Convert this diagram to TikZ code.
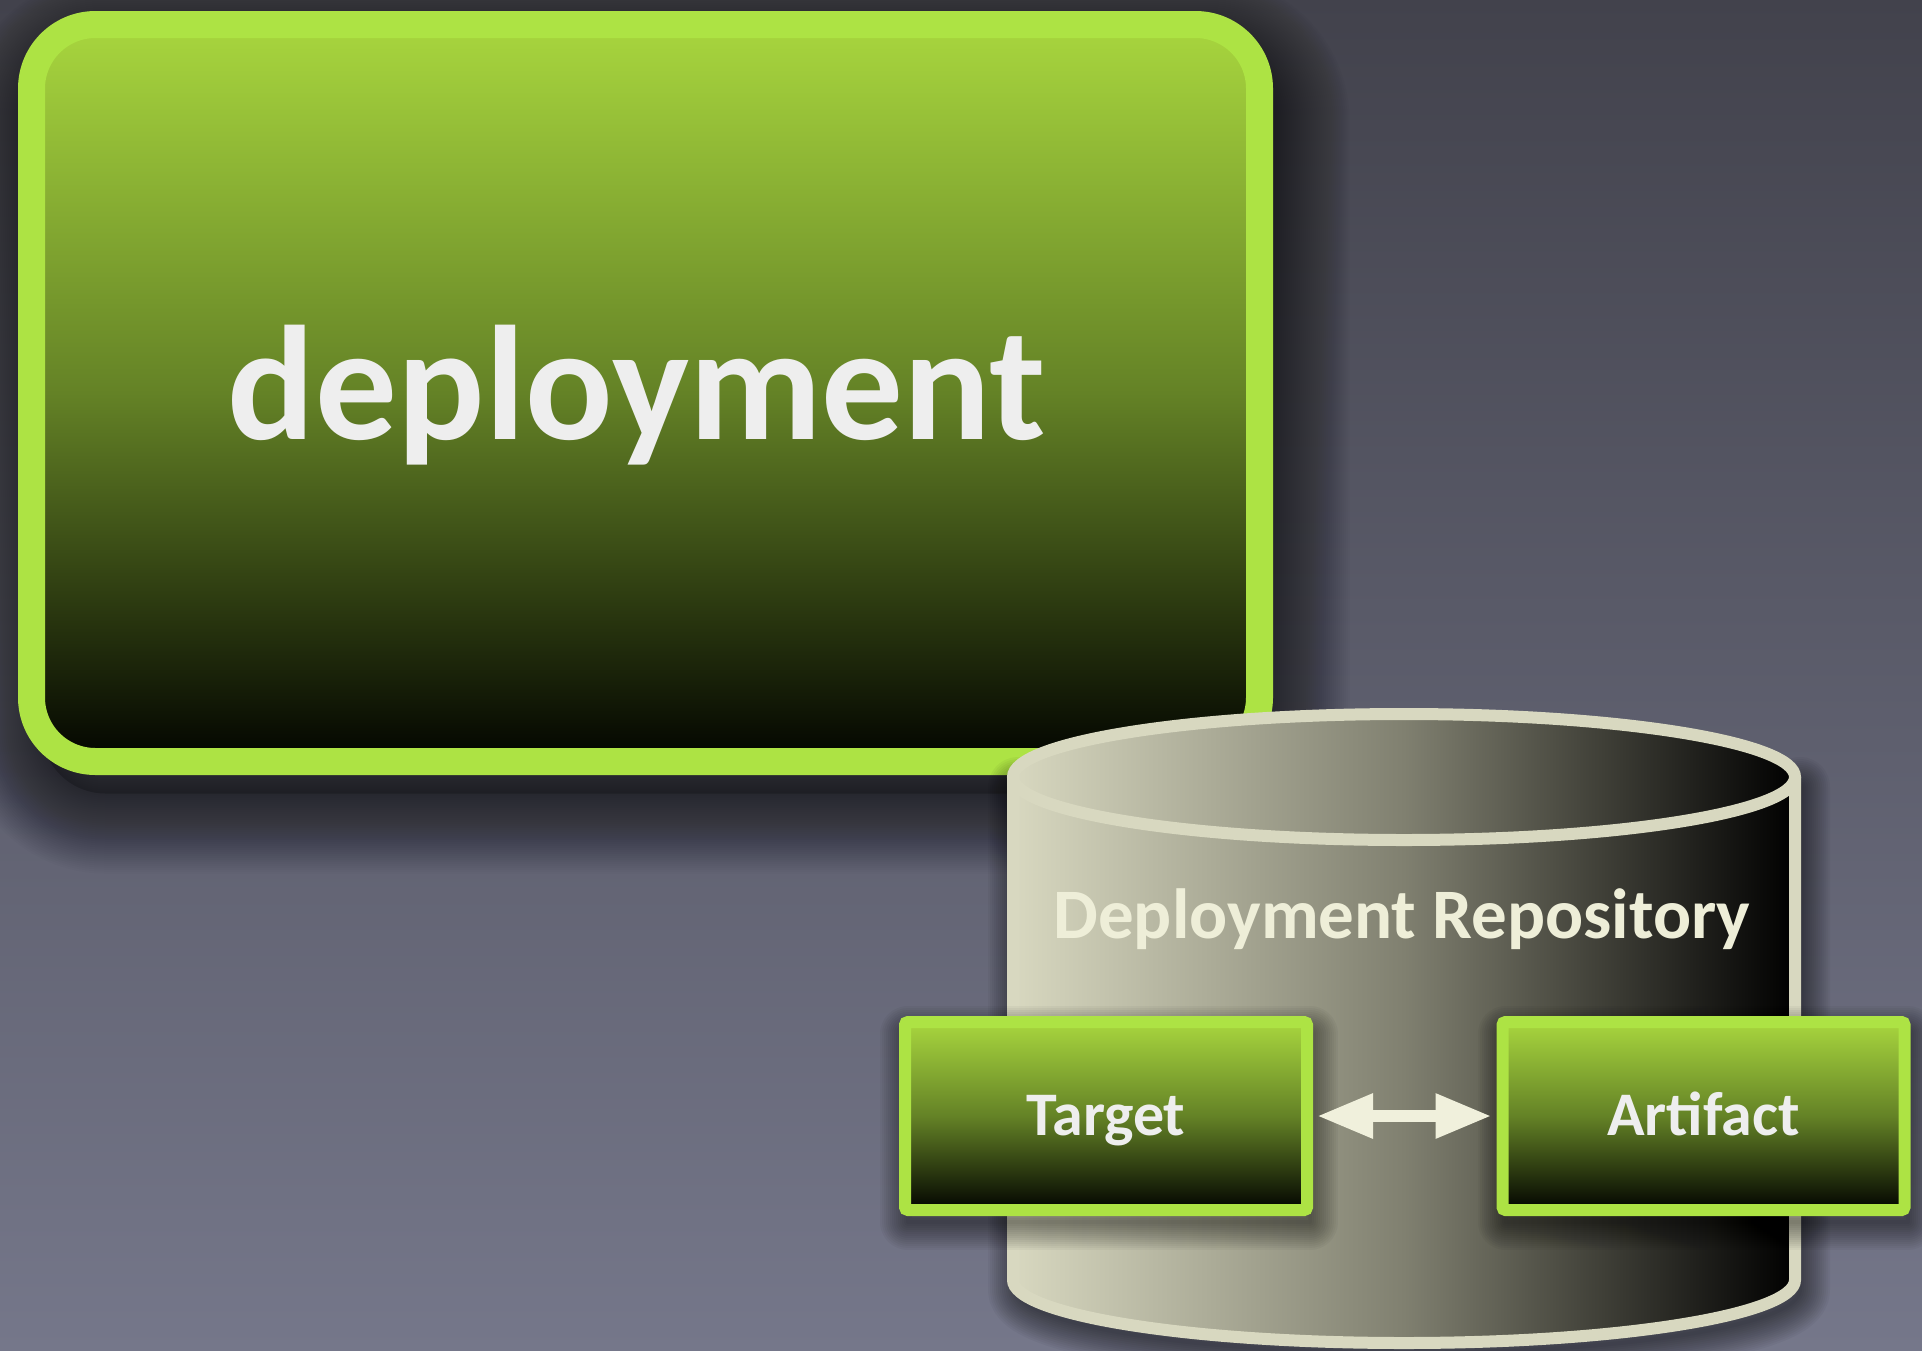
\documentclass[tikz,border=0pt]{standalone}
\usepackage{fontspec}
\setmainfont{Carlito}
\usetikzlibrary{arrows.meta}
\definecolor{bgtop}{RGB}{66,66,76}
\definecolor{bgbot}{RGB}{117,119,138}
\definecolor{lime}{RGB}{173,227,68}
\definecolor{gtop}{RGB}{168,214,62}
\definecolor{gmid}{RGB}{100,130,38}
\definecolor{gbot}{RGB}{2,4,0}
\definecolor{cream}{RGB}{216,216,192}
\definecolor{cmid}{RGB}{128,128,112}
\definecolor{txt}{RGB}{238,238,238}
\definecolor{txtc}{RGB}{238,238,216}
\definecolor{arrowc}{RGB}{240,240,220}
\tikzset{
  bigbox/.style={draw=lime, line width=27pt, rounded corners=64pt,
    minimum width=1228pt, minimum height=737pt, inner sep=0pt,
    top color=gtop, bottom color=gbot, middle color=gmid},
  smallbox/.style={draw=lime, line width=12pt, rounded corners=3pt,
    minimum width=402pt, minimum height=188pt, inner sep=0pt,
    top color=gtop, bottom color=gbot, middle color=gmid,
    text=txt, font=\fontsize{62}{62}\selectfont\bfseries,
    text height=39pt, text depth=0pt},
  glow/.style={black, opacity=0.035, line join=round},
  dblarrow/.style={arrowc, line width=12pt,
    {Triangle[length=56pt,width=42pt]}-{Triangle[length=56pt,width=42pt]}},
}
\begin{document}
\begin{tikzpicture}[x=1pt,y=-1pt]
\useasboundingbox (0,0) rectangle (1922,1350);
\shade[top color=bgtop,bottom color=bgbot] (0,0) rectangle (1922,1350);

% shadow of the big box
\begin{scope}[shift={(10,32)}]
  \fill[black,opacity=0.18,rounded corners=64pt] (31.5,24.5) rectangle (1259.5,761.5);
  \foreach \w in {4,8,...,160}
    \draw[black,opacity=0.015,line width=\w pt,rounded corners=64pt] (31.5,24.5) rectangle (1259.5,761.5);
\end{scope}

% big box
\node[bigbox] (deploy) at (645.5,393) {};
\node[font=\fontsize{163}{163}\selectfont\bfseries, text=txt, anchor=base, inner sep=0pt] (dtext) at (637,439) {deployment};

% shadow of the cylinder
\begin{scope}[shift={(5,10)}]
  \foreach \w in {4,8,...,60}
    \draw[glow,line width=\w pt] (1013,777) -- (1013,1280)
      arc[start angle=180,end angle=0,x radius=391,y radius=63] -- (1795,777)
      arc[start angle=0,end angle=180,x radius=391,y radius=63] -- cycle;
\end{scope}

% cylinder body
\shade[left color=cream, right color=black, middle color=cmid]
  (1013,777) -- (1013,1280) arc[start angle=180,end angle=0,x radius=391,y radius=63]
  -- (1795,777) -- cycle;
\draw[cream, line width=12pt] (1013,777) -- (1013,1280)
  arc[start angle=180,end angle=0,x radius=391,y radius=63] -- (1795,777);
% cylinder top
\draw[cream, line width=12pt, left color=cream, right color=black, middle color=cmid]
  (1404,777) ellipse[x radius=391, y radius=63];
\node[font=\fontsize{71}{71}\selectfont\bfseries, text=txtc, anchor=base, inner sep=0pt] (repo) at (1402,938) {Deployment Repository};

% shadows of the small boxes
\foreach \cx in {1106,1703.5} {
  \begin{scope}[shift={(3,12)}]
    \foreach \w in {4,8,...,56}
      \draw[glow,line width=\w pt] (\cx-201,1022) rectangle (\cx+201,1210);
  \end{scope}
}

% small boxes
\node[smallbox] (target) at (1106,1116) {Target};
\node[smallbox] (artifact) at (1703.5,1116) {Artifact};

% connector
\draw[dblarrow, shorten <=4pt, shorten >=5pt] (target.east) -- (artifact.west);
\end{tikzpicture}
\end{document}
